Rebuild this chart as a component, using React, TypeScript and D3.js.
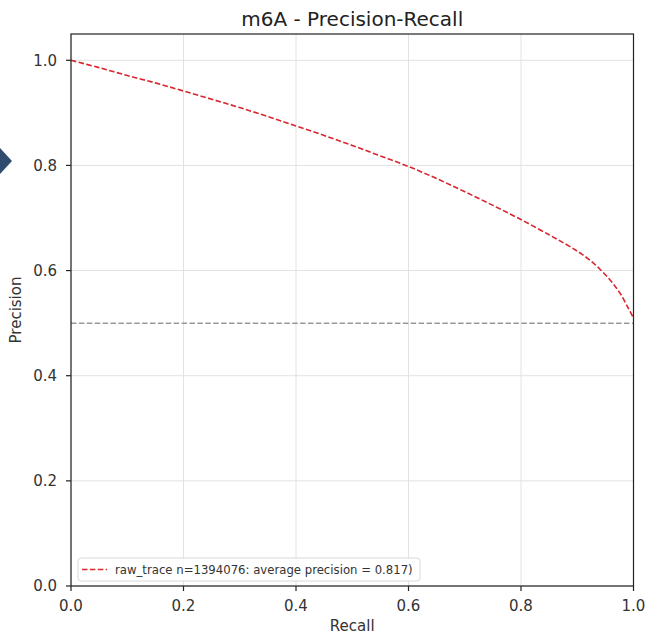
import React from "react";
import * as d3 from "d3";

const recall = [0, 0.05, 0.1, 0.15, 0.2, 0.25, 0.3, 0.35, 0.4, 0.45, 0.5, 0.55, 0.6, 0.65, 0.7, 0.75, 0.8, 0.85, 0.88, 0.9, 0.92, 0.94, 0.96, 0.976, 0.99, 1.0];
const precision = [1.0, 0.986, 0.971, 0.957, 0.9415, 0.926, 0.91, 0.893, 0.875, 0.857, 0.838, 0.818, 0.798, 0.775, 0.75, 0.724, 0.697, 0.668, 0.65, 0.637, 0.622, 0.603, 0.58, 0.557, 0.53, 0.51];
const baseline = 0.5;
const xTicks = [0, 0.2, 0.4, 0.6, 0.8, 1.0];
const yTicks = [0, 0.2, 0.4, 0.6, 0.8, 1.0];
const title = "m6A - Precision-Recall";
const xLabel = "Recall";
const yLabel = "Precision";
const legendLabel = "raw_trace n=1394076: average precision = 0.817)";

const W = 645;
const H = 636;
const M = { left: 71, right: 633.5, top: 34, bottom: 586 };
const FONT = "DejaVu Sans, sans-serif";

export default function App() {
  const x = d3.scaleLinear().domain([0, 1]).range([M.left, M.right]);
  const y = d3.scaleLinear().domain([0, 1.05]).range([M.bottom, M.top]);
  const pts: [number, number][] = recall.map((r, i) => [r, precision[i]]);
  const line = d3
    .line<[number, number]>()
    .x((d) => x(d[0]))
    .y((d) => y(d[1]))
    .curve(d3.curveCatmullRom.alpha(0.5));

  return (
    <svg width={W} height={H} style={{ position: "absolute", left: 0, top: 0, background: "#fff" }}>
      <rect x={0} y={0} width={W} height={H} fill="#fff" />
      {/* side arrow artifact */}
      <polygon points="0,148 12,161 0,174" fill="#2f4b6e" />
      {/* grid */}
      {xTicks.map((t) => (
        <line key={"gx" + t} x1={x(t)} x2={x(t)} y1={M.top} y2={M.bottom} stroke="#e2e2e2" strokeWidth={1} />
      ))}
      {yTicks.map((t) => (
        <line key={"gy" + t} x1={M.left} x2={M.right} y1={y(t)} y2={y(t)} stroke="#e2e2e2" strokeWidth={1} />
      ))}
      {/* baseline */}
      <line
        x1={x(0)}
        x2={x(1)}
        y1={y(baseline)}
        y2={y(baseline)}
        stroke="#999"
        strokeWidth={1.5}
        strokeDasharray="5.5,2.4"
      />
      {/* curve */}
      <path d={line(pts) || ""} fill="none" stroke="#d8262e" strokeWidth={1.6} strokeDasharray="5.5,2.4" />
      {/* spines */}
      <rect x={M.left} y={M.top} width={M.right - M.left} height={M.bottom - M.top} fill="none" stroke="#222" strokeWidth={1.2} />
      {/* x ticks */}
      {xTicks.map((t) => (
        <g key={"xt" + t}>
          <line x1={x(t)} x2={x(t)} y1={M.bottom} y2={M.bottom + 5} stroke="#222" strokeWidth={1.2} />
          <text x={x(t)} y={611} textAnchor="middle" fontFamily={FONT} fontSize={15} fill="#333">
            {t.toFixed(1)}
          </text>
        </g>
      ))}
      {/* y ticks */}
      {yTicks.map((t) => (
        <g key={"yt" + t}>
          <line x1={M.left - 5} x2={M.left} y1={y(t)} y2={y(t)} stroke="#222" strokeWidth={1.2} />
          <text x={57} y={y(t)} dy="0.36em" textAnchor="end" fontFamily={FONT} fontSize={15} fill="#333">
            {t.toFixed(1)}
          </text>
        </g>
      ))}
      {/* title & labels */}
      <text x={(M.left + M.right) / 2} y={26} textAnchor="middle" fontFamily={FONT} fontSize={20} fill="#222">
        {title}
      </text>
      <text x={(M.left + M.right) / 2} y={631} textAnchor="middle" fontFamily={FONT} fontSize={15} fill="#333">
        {xLabel}
      </text>
      <text
        transform={`translate(21,${(M.top + M.bottom) / 2}) rotate(-90)`}
        textAnchor="middle"
        fontFamily={FONT}
        fontSize={15}
        fill="#333"
      >
        {yLabel}
      </text>
      {/* legend */}
      <rect x={78} y={558} width={342} height={23} rx={3} fill="#fff" fillOpacity={0.85} stroke="#d8d8d8" strokeWidth={1} />
      <line x1={82} x2={107} y1={569.5} y2={569.5} stroke="#d8262e" strokeWidth={1.6} strokeDasharray="5.5,2.4" />
      <text x={115} y={569.5} dy="0.35em" fontFamily={FONT} fontSize={11.7} fill="#333">
        {legendLabel}
      </text>
    </svg>
  );
}
